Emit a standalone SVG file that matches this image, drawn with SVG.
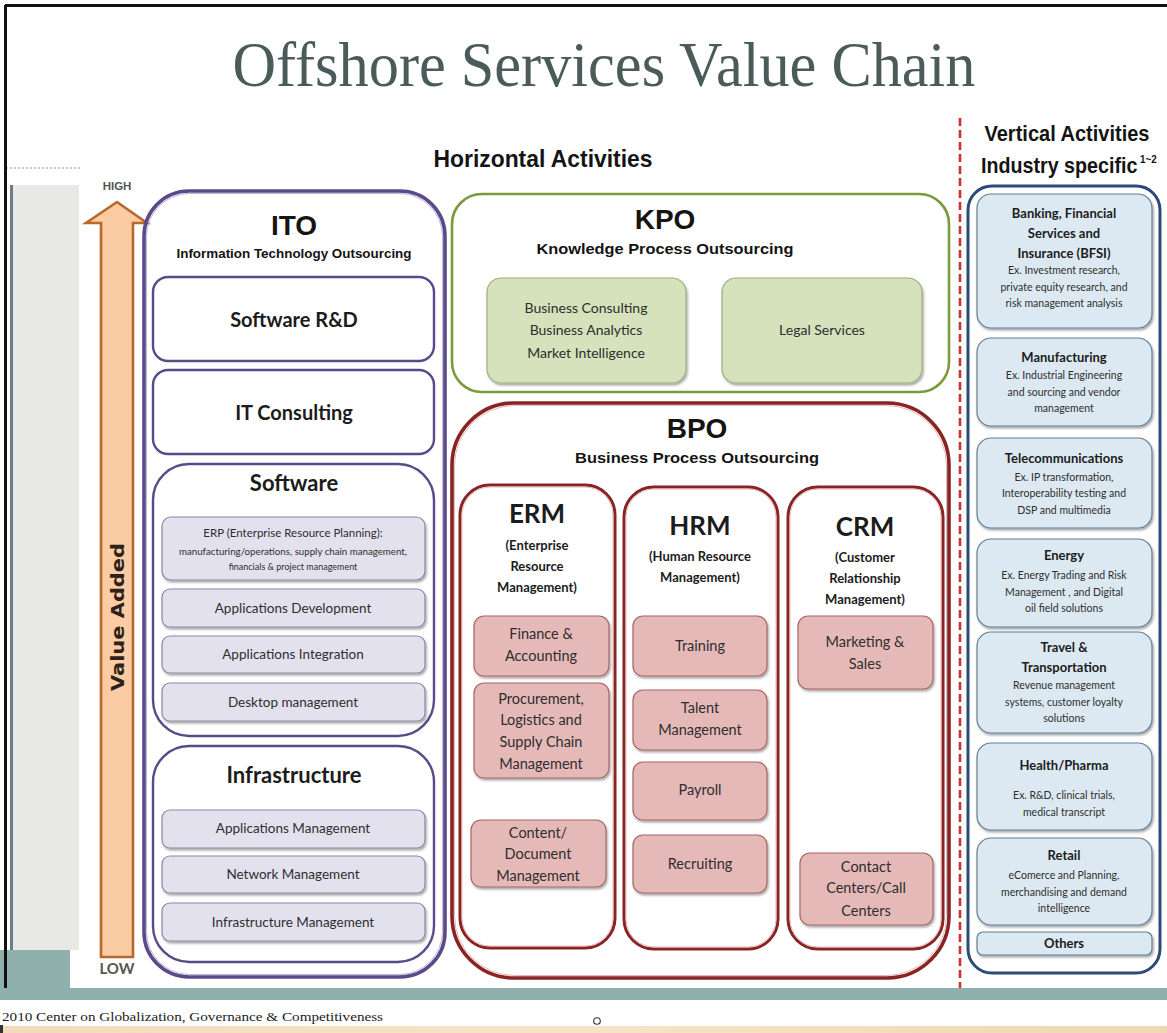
<svg xmlns="http://www.w3.org/2000/svg" width="1167" height="1033" viewBox="0 0 1167 1033">
  <defs>
    <filter id="sh" x="-10%" y="-10%" width="125%" height="130%">
      <feDropShadow dx="1.2" dy="2" stdDeviation="1.3" flood-color="#000" flood-opacity="0.35"/>
    </filter>
    <linearGradient id="sand" x1="0" y1="0" x2="1" y2="0">
      <stop offset="0" stop-color="#f3dcbc"/>
      <stop offset="0.5" stop-color="#f7e4c6"/>
      <stop offset="1" stop-color="#f1d7b3"/>
    </linearGradient>
    <style>
      .hdr { font-family: "Liberation Sans", Arial, sans-serif; font-weight: bold; fill: #141414; text-anchor: middle; }
      .cb { font-family: Lato, "Noto Sans", sans-serif; font-weight: bold; fill: #1c1c1c; text-anchor: middle; }
      .ct { font-family: Lato, "Noto Sans", sans-serif; fill: #2e2e2e; text-anchor: middle; }
      .ito { fill: none; stroke: #5a4a8a; stroke-width: 3.6; }
      .ito-in { fill: none; stroke: #b7add3; stroke-width: 0.9; }
      .itob { fill: #fff; stroke: #5a4a8a; stroke-width: 2.4; }
      .lav { fill: #e4e1ee; stroke: #8c88a4; stroke-width: 1.2; filter: url(#sh); }
      .kpo { fill: #fff; stroke: #7c9a3c; stroke-width: 2.6; }
      .grn { fill: #d5e2bc; stroke: #9cb079; stroke-width: 1.2; filter: url(#sh); }
      .bpo { fill: #fff; stroke: #8a2424; stroke-width: 3.6; }
      .bpo-in { fill: none; stroke: #e0b0b0; stroke-width: 0.9; }
      .pnk { fill: #e6b9b9; stroke: #a86464; stroke-width: 1.2; filter: url(#sh); }
      .vc { fill: #fff; stroke: #2d4b7a; stroke-width: 3; }
      .blu { fill: #dce9f2; stroke: #5f7e94; stroke-width: 1.2; filter: url(#sh); }
    </style>
  </defs>

  <!-- page -->
  <rect x="0" y="0" width="1167" height="1033" fill="#fff"/>

  <!-- left side panel and footer bands -->
  <g id="frame">
    <rect x="13" y="185" width="66" height="765" fill="#e8e8e5"/>
    <line x1="11.5" y1="185" x2="11.5" y2="950" stroke="#6d7c8c" stroke-width="3"/>
    <line x1="6" y1="168" x2="80" y2="168" stroke="#9a9a9a" stroke-width="1" stroke-dasharray="2 2"/>
    <rect x="0" y="950" width="70" height="40" fill="#8fb0ac"/>
    <rect x="0" y="988" width="1167" height="12" fill="#8fb0ac"/>
    <rect x="0" y="1026" width="1167" height="7" fill="url(#sand)"/>
    <rect x="0" y="1025" width="3" height="8" fill="#333"/>
    <line x1="5" y1="5.5" x2="1167" y2="5.5" stroke="#111" stroke-width="3"/>
    <line x1="5.5" y1="5" x2="5.5" y2="988" stroke="#111" stroke-width="3"/>
    <text x="2" y="1021" font-family="'Liberation Serif', 'Times New Roman', serif" font-size="13" fill="#222" textLength="381" lengthAdjust="spacingAndGlyphs">2010 Center on Globalization, Governance &amp; Competitiveness</text>
    <circle cx="597" cy="1021" r="3.3" fill="none" stroke="#333" stroke-width="1.1"/>
  </g>

  <!-- headings -->
  <g id="headings">
    <text x="604" y="86" font-family="'Liberation Serif', 'Times New Roman', serif" font-size="64" fill="#4a5b5a" text-anchor="middle" textLength="743" lengthAdjust="spacingAndGlyphs">Offshore Services Value Chain</text>
    <text class="hdr" x="543" y="167" font-size="24" textLength="219" lengthAdjust="spacingAndGlyphs">Horizontal Activities</text>
    <text class="hdr" x="1067" y="141" font-size="22" textLength="165" lengthAdjust="spacingAndGlyphs">Vertical Activities</text>
    <text class="hdr" x="0" y="0" font-size="22" style="text-anchor:start" transform="translate(981,173) scale(0.895,1)">Industry specific<tspan font-size="11" dx="3" dy="-10">1~2</tspan></text>
  </g>

  <!-- value added arrow -->
  <g id="value-arrow">
    <path d="M117,202 L147,223 L133,223 L133,957 L101,957 L101,223 L86,223 Z" fill="#fbcba4" stroke="#b8692a" stroke-width="2.6" stroke-linejoin="miter"/>
    <text x="0" y="0" transform="translate(124,617) rotate(-90)" font-family="'DejaVu Sans', sans-serif" font-weight="bold" font-size="18" fill="#2e2218" text-anchor="middle" textLength="148" lengthAdjust="spacingAndGlyphs">Value Added</text>
    <text x="117" y="190" font-family="'Liberation Sans', Arial, sans-serif" font-weight="bold" font-size="11.5" fill="#555" text-anchor="middle">HIGH</text>
    <text x="117" y="974" font-family="Lato, 'Noto Sans', sans-serif" font-weight="bold" font-size="15" fill="#555" text-anchor="middle">LOW</text>
  </g>

  <!-- red dashed divider -->
  <g id="connectors">
    <line x1="960" y1="118" x2="960" y2="988" stroke="#d23030" stroke-width="2.6" stroke-dasharray="8 4"/>
  </g>

  <!-- ITO -->
  <g id="ito">
    <rect class="ito" x="144" y="191" width="301" height="786" rx="45"/>
    <rect class="ito-in" x="146.5" y="193.5" width="296" height="781" rx="43"/>
    <text class="hdr" x="294" y="235" font-size="28">ITO</text>
    <text class="hdr" x="294" y="258" font-size="12.5" textLength="235" lengthAdjust="spacingAndGlyphs">Information Technology  Outsourcing</text>
  </g>
  <g id="software-rd">
    <rect class="itob" x="153" y="277" width="281" height="84" rx="15"/>
    <text class="cb" x="294" y="327" font-size="20">Software R&amp;D</text>
  </g>
  <g id="it-consulting">
    <rect class="itob" x="153" y="370" width="281" height="84" rx="15"/>
    <text class="cb" x="294" y="420" font-size="20">IT Consulting</text>
  </g>
  <g id="software">
    <rect class="itob" x="153" y="464" width="281" height="272" rx="36"/>
    <text class="cb" x="294" y="491" font-size="22">Software</text>
  </g>
  <g id="erp">
    <rect class="lav" x="162" y="517" width="263" height="63" rx="9"/>
    <text class="ct" x="293" y="537" font-size="11.5">ERP (Enterprise Resource Planning):</text>
    <text class="ct" x="293" y="555" font-size="9" textLength="228" lengthAdjust="spacingAndGlyphs">manufacturing/operations, supply chain management,</text>
    <text class="ct" x="293" y="570" font-size="9">financials &amp; project management</text>
  </g>
  <g id="app-dev">
    <rect class="lav" x="162" y="589" width="263" height="38" rx="8"/>
    <text class="ct" x="293" y="613" font-size="13.5">Applications Development</text>
  </g>
  <g id="app-int">
    <rect class="lav" x="162" y="636" width="263" height="37" rx="8"/>
    <text class="ct" x="293" y="659" font-size="13.5">Applications Integration</text>
  </g>
  <g id="desktop">
    <rect class="lav" x="162" y="683" width="263" height="38" rx="8"/>
    <text class="ct" x="293" y="707" font-size="13.5">Desktop management</text>
  </g>
  <g id="infrastructure">
    <rect class="itob" x="153" y="746" width="281" height="216" rx="36"/>
    <text class="cb" x="294" y="783" font-size="22">Infrastructure</text>
  </g>
  <g id="app-mgmt">
    <rect class="lav" x="162" y="810" width="263" height="38" rx="8"/>
    <text class="ct" x="293" y="833" font-size="13.5">Applications Management</text>
  </g>
  <g id="net-mgmt">
    <rect class="lav" x="162" y="856" width="263" height="37" rx="8"/>
    <text class="ct" x="293" y="879" font-size="13.5">Network Management</text>
  </g>
  <g id="infra-mgmt">
    <rect class="lav" x="162" y="903" width="263" height="38" rx="8"/>
    <text class="ct" x="293" y="927" font-size="13.5">Infrastructure Management</text>
  </g>

  <!-- KPO -->
  <g id="kpo">
    <rect class="kpo" x="452" y="194" width="497" height="198" rx="30"/>
    <text class="hdr" x="665" y="229" font-size="28">KPO</text>
    <text class="hdr" x="665" y="254" font-size="15" textLength="257" lengthAdjust="spacingAndGlyphs">Knowledge Process Outsourcing</text>
  </g>
  <g id="kpo-business">
    <rect class="grn" x="487" y="278" width="199" height="105" rx="14"/>
    <text class="ct" x="586" y="313" font-size="14">Business Consulting</text>
    <text class="ct" x="586" y="335" font-size="14">Business Analytics</text>
    <text class="ct" x="586" y="358" font-size="14">Market Intelligence</text>
  </g>
  <g id="kpo-legal">
    <rect class="grn" x="722" y="278" width="200" height="105" rx="14"/>
    <text class="ct" x="822" y="335" font-size="14">Legal Services</text>
  </g>

  <!-- BPO -->
  <g id="bpo">
    <rect class="bpo" x="452" y="403" width="497" height="575" rx="62"/>
    <rect class="bpo-in" x="454.5" y="405.5" width="492" height="570" rx="60"/>
    <text class="hdr" x="697" y="438" font-size="28">BPO</text>
    <text class="hdr" x="697" y="463" font-size="15" textLength="244" lengthAdjust="spacingAndGlyphs">Business Process Outsourcing</text>
  </g>
  <g id="erm">
    <rect class="bpo" x="460" y="485" width="155" height="463" rx="30" style="stroke-width:3"/>
    <rect class="bpo-in" x="462" y="487" width="151" height="459" rx="28"/>
    <text class="cb" x="537" y="523" font-size="26">ERM</text>
    <text class="cb" x="537" y="549.5" font-size="13">(Enterprise</text>
    <text class="cb" x="537" y="570.5" font-size="13">Resource</text>
    <text class="cb" x="537" y="591.5" font-size="13">Management)</text>
  </g>
  <g id="hrm">
    <rect class="bpo" x="624" y="487" width="154" height="462" rx="30" style="stroke-width:3"/>
    <rect class="bpo-in" x="626" y="489" width="150" height="458" rx="28"/>
    <text class="cb" x="700" y="535" font-size="26">HRM</text>
    <text class="cb" x="700" y="560.5" font-size="13">(Human Resource</text>
    <text class="cb" x="700" y="581.5" font-size="13">Management)</text>
  </g>
  <g id="crm">
    <rect class="bpo" x="788" y="487" width="155" height="462" rx="30" style="stroke-width:3"/>
    <rect class="bpo-in" x="790" y="489" width="151" height="458" rx="28"/>
    <text class="cb" x="865" y="536" font-size="26">CRM</text>
    <text class="cb" x="865" y="561.5" font-size="13">(Customer</text>
    <text class="cb" x="865" y="582.5" font-size="13">Relationship</text>
    <text class="cb" x="865" y="603.5" font-size="13">Management)</text>
  </g>
  <g id="finance">
    <rect class="pnk" x="474" y="616" width="135" height="60" rx="10"/>
    <text class="ct" x="541" y="639" font-size="14.5">Finance &amp;</text>
    <text class="ct" x="541" y="661" font-size="14.5">Accounting</text>
  </g>
  <g id="procurement">
    <rect class="pnk" x="474" y="683" width="135" height="95" rx="10"/>
    <text class="ct" x="541" y="704" font-size="14.5">Procurement,</text>
    <text class="ct" x="541" y="725" font-size="14.5">Logistics and</text>
    <text class="ct" x="541" y="747" font-size="14.5">Supply Chain</text>
    <text class="ct" x="541" y="769" font-size="14.5">Management</text>
  </g>
  <g id="content">
    <rect class="pnk" x="471" y="820" width="135" height="67" rx="10"/>
    <text class="ct" x="538" y="838" font-size="14.5">Content/</text>
    <text class="ct" x="538" y="859" font-size="14.5">Document</text>
    <text class="ct" x="538" y="881" font-size="14.5">Management</text>
  </g>
  <g id="training">
    <rect class="pnk" x="633" y="616" width="134" height="60" rx="10"/>
    <text class="ct" x="700" y="651" font-size="14.5">Training</text>
  </g>
  <g id="talent">
    <rect class="pnk" x="633" y="690" width="134" height="60" rx="10"/>
    <text class="ct" x="700" y="713" font-size="14.5">Talent</text>
    <text class="ct" x="700" y="735" font-size="14.5">Management</text>
  </g>
  <g id="payroll">
    <rect class="pnk" x="633" y="762" width="134" height="58" rx="10"/>
    <text class="ct" x="700" y="795" font-size="14.5">Payroll</text>
  </g>
  <g id="recruiting">
    <rect class="pnk" x="633" y="835" width="134" height="58" rx="10"/>
    <text class="ct" x="700" y="869" font-size="14.5">Recruiting</text>
  </g>
  <g id="marketing">
    <rect class="pnk" x="798" y="616" width="135" height="73" rx="10"/>
    <text class="ct" x="865" y="647" font-size="14.5">Marketing &amp;</text>
    <text class="ct" x="865" y="669" font-size="14.5">Sales</text>
  </g>
  <g id="contact">
    <rect class="pnk" x="800" y="853" width="133" height="72" rx="10"/>
    <text class="ct" x="866" y="872" font-size="14.5">Contact</text>
    <text class="ct" x="866" y="893" font-size="14.5">Centers/Call</text>
    <text class="ct" x="866" y="916" font-size="14.5">Centers</text>
  </g>

  <!-- vertical activities -->
  <g id="verticals">
    <rect class="vc" x="968" y="186" width="192" height="787" rx="24"/>
  </g>
  <g id="bfsi">
    <rect class="blu" x="977" y="194" width="175" height="134" rx="14"/>
    <text class="cb" x="1064" y="217.5" font-size="13">Banking, Financial</text>
    <text class="cb" x="1064" y="237.5" font-size="13">Services and</text>
    <text class="cb" x="1064" y="257.5" font-size="13">Insurance (BFSI)</text>
    <text class="ct" x="1064" y="274" font-size="10.5">Ex. Investment research,</text>
    <text class="ct" x="1064" y="290.5" font-size="10.5">private equity research, and</text>
    <text class="ct" x="1064" y="306.5" font-size="10.5">risk management analysis</text>
  </g>
  <g id="manufacturing">
    <rect class="blu" x="977" y="338" width="175" height="88" rx="14"/>
    <text class="cb" x="1064" y="361.5" font-size="13">Manufacturing</text>
    <text class="ct" x="1064" y="378.5" font-size="10.5">Ex. Industrial Engineering</text>
    <text class="ct" x="1064" y="395.5" font-size="10.5">and sourcing and vendor</text>
    <text class="ct" x="1064" y="411.5" font-size="10.5">management</text>
  </g>
  <g id="telecom">
    <rect class="blu" x="977" y="438" width="175" height="90" rx="14"/>
    <text class="cb" x="1064" y="462.5" font-size="13">Telecommunications</text>
    <text class="ct" x="1064" y="480.5" font-size="10.5">Ex. IP transformation,</text>
    <text class="ct" x="1064" y="496.5" font-size="10.5">Interoperability testing and</text>
    <text class="ct" x="1064" y="513.5" font-size="10.5">DSP and multimedia</text>
  </g>
  <g id="energy">
    <rect class="blu" x="977" y="539" width="175" height="88" rx="14"/>
    <text class="cb" x="1064" y="559.5" font-size="13">Energy</text>
    <text class="ct" x="1064" y="578.5" font-size="10.5">Ex. Energy Trading and Risk</text>
    <text class="ct" x="1064" y="595.5" font-size="10.5">Management , and Digital</text>
    <text class="ct" x="1064" y="611.5" font-size="10.5">oil field solutions</text>
  </g>
  <g id="travel">
    <rect class="blu" x="977" y="632" width="175" height="101" rx="14"/>
    <text class="cb" x="1064" y="651.5" font-size="13">Travel &amp;</text>
    <text class="cb" x="1064" y="671.5" font-size="13">Transportation</text>
    <text class="ct" x="1064" y="688.5" font-size="10.5">Revenue management</text>
    <text class="ct" x="1064" y="705.5" font-size="10.5">systems, customer loyalty</text>
    <text class="ct" x="1064" y="721.5" font-size="10.5">solutions</text>
  </g>
  <g id="health">
    <rect class="blu" x="977" y="743" width="175" height="87" rx="14"/>
    <text class="cb" x="1064" y="769.5" font-size="13">Health/Pharma</text>
    <text class="ct" x="1064" y="798.5" font-size="10.5">Ex. R&amp;D, clinical trials,</text>
    <text class="ct" x="1064" y="815.5" font-size="10.5">medical transcript</text>
  </g>
  <g id="retail">
    <rect class="blu" x="977" y="838" width="175" height="87" rx="14"/>
    <text class="cb" x="1064" y="859.5" font-size="13">Retail</text>
    <text class="ct" x="1064" y="878.5" font-size="10.5">eComerce and Planning,</text>
    <text class="ct" x="1064" y="895.5" font-size="10.5">merchandising and demand</text>
    <text class="ct" x="1064" y="911.5" font-size="10.5">intelligence</text>
  </g>
  <g id="others">
    <rect class="blu" x="977" y="932" width="175" height="23" rx="6"/>
    <text class="cb" x="1064" y="948" font-size="13">Others</text>
  </g>
</svg>
